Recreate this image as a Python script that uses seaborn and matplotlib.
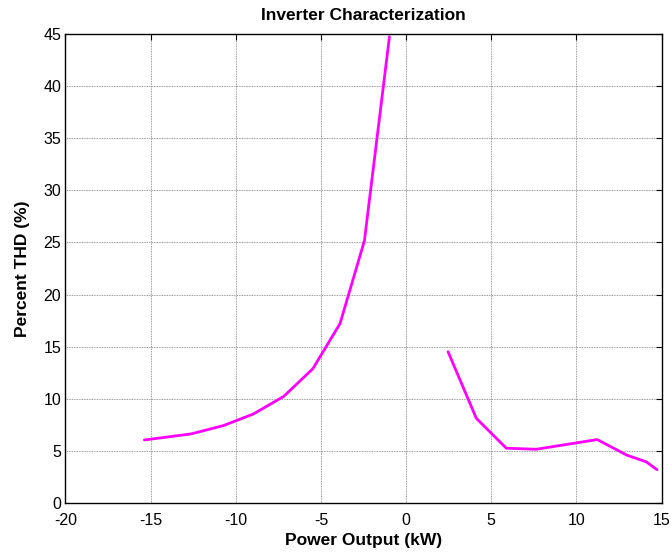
import matplotlib
matplotlib.use("Agg")
import matplotlib.pyplot as plt
import seaborn as sns
import pandas as pd

# Charging (negative power) branch
neg_power = [-15.37, -12.63, -10.73, -8.97, -7.19, -5.48, -3.88, -2.45, -0.98]
neg_thd = [6.05, 6.63, 7.43, 8.54, 10.23, 12.88, 17.22, 25.16, 44.74]
# Discharging (positive power) branch
pos_power = [2.46, 4.12, 5.88, 7.64, 11.22, 12.95, 14.1, 14.73]
pos_thd = [14.52, 8.13, 5.26, 5.16, 6.09, 4.6, 3.95, 3.2]

x_ticks = [-20, -15, -10, -5, 0, 5, 10, 15]
y_ticks = [0, 5, 10, 15, 20, 25, 30, 35, 40, 45]

df = pd.DataFrame({
    "power": neg_power + pos_power,
    "thd": neg_thd + pos_thd,
    "seg": ["neg"] * len(neg_power) + ["pos"] * len(pos_power),
})

sns.set_style("white")
plt.rcParams["font.family"] = ["Liberation Sans", "DejaVu Sans"]
plt.rcParams["text.color"] = "black"
plt.rcParams["axes.labelcolor"] = "black"
plt.rcParams["xtick.color"] = "black"
plt.rcParams["ytick.color"] = "black"

fig = plt.figure(figsize=(6.71, 5.54), dpi=100)
ax = fig.add_axes([0.0976, 0.092, 0.8884, 0.8466])

sns.lineplot(data=df, x="power", y="thd", units="seg", estimator=None,
             color="#FF00FF", linewidth=2.0, ax=ax, sort=False)

ax.set_xlim(-20, 15)
ax.set_ylim(0, 45)
ax.set_xticks(x_ticks)
ax.set_yticks(y_ticks)
ax.set_xticklabels([str(t) for t in x_ticks], fontsize=11.5)
ax.set_yticklabels([str(t) for t in y_ticks], fontsize=11.5)
ax.grid(True, linestyle=(0, (1, 1)), color="#7a7a7a", linewidth=0.6)
ax.tick_params(axis="x", pad=7)
ax.tick_params(axis="y", pad=3)
ax.tick_params(direction="in", top=True, right=True, length=4, width=0.8,
               colors="black")
for s in ax.spines.values():
    s.set_visible(True)
    s.set_color("black")
    s.set_linewidth(1.0)

ax.set_xlabel("Power Output (kW)", fontsize=12.5, fontweight="bold",
              labelpad=4, color="black")
ax.set_ylabel("Percent THD (%)", fontsize=12.5, fontweight="bold",
              labelpad=10, color="black")
ax.set_title("Inverter Characterization", fontsize=12.5, fontweight="bold",
             pad=10, color="black")

fig.savefig("out.png", dpi=100)
